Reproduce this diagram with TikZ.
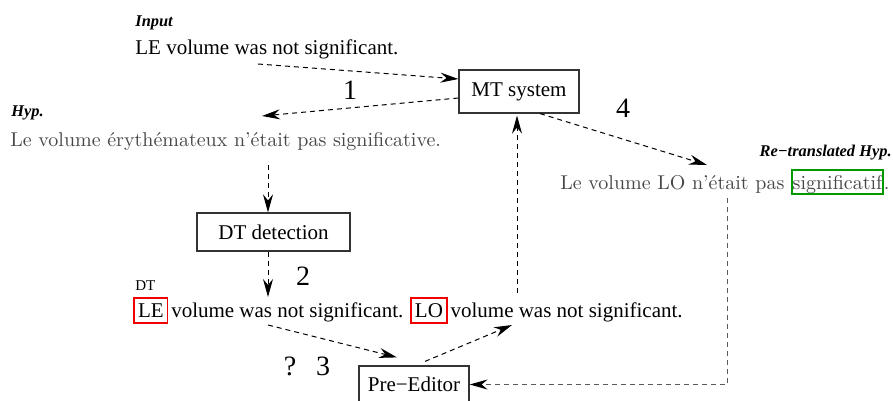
\documentclass[tikz,border=0pt]{standalone}
\usepackage{fontspec}
\newfontfamily\tms{Liberation Serif}
\usetikzlibrary{arrows.meta}
\definecolor{frgray}{gray}{0.28}
\definecolor{boxgreen}{rgb}{0,0.6,0}
\definecolor{boxred}{rgb}{0.95,0,0}
\newcommand\redbox[1]{{\setlength\fboxsep{1.5pt}\setlength\fboxrule{0.8pt}\fcolorbox{boxred}{white}{\rule[-1pt]{0pt}{8.5pt}#1}}}
\newcommand\greenbox[1]{{\setlength\fboxsep{0pt}\setlength\fboxrule{0.8pt}\fcolorbox{boxgreen}{white}{\rule[-2.1pt]{0pt}{11.2pt}#1}}}
\tikzset{
  en/.style={font=\tms\fontsize{10.5}{12}\selectfont, inner sep=0pt, anchor=base west},
  fr/.style={font=\fontsize{10}{12}\selectfont, text=frgray, inner sep=0pt, anchor=base west},
  lbl/.style={font=\tms\bfseries\itshape\fontsize{8.2}{10}\selectfont, inner sep=0pt, anchor=base west},
  num/.style={font=\tms\fontsize{14}{16}\selectfont, inner sep=0pt, anchor=base},
  procbox/.style={draw=black!80, line width=0.6pt, font=\tms\fontsize{10.5}{12}\selectfont, inner sep=0pt},
  conn/.style={dash pattern=on 2.5pt off 2pt, line width=0.5pt, -{Stealth[length=9pt,width=5pt,inset=3pt,black]}},
}
\begin{document}
\begin{tikzpicture}[x=0.5pt,y=-0.5pt]
\useasboundingbox (0,0) rectangle (893,401);
% labels
\node[lbl] (inlbl) at (135,27) {Input};
\node[lbl] (hyplbl) at (11,117) {Hyp.};
\node[lbl, anchor=base east] (relbl) at (892,156) {Re−translated Hyp.};
\node[font=\tms\fontsize{7.5}{9}\selectfont, inner sep=0pt, anchor=base west] (dtlbl) at (135,290) {DT};
% texts
\node[en] (input) at (135,55) {LE volume was not significant.};
\node[fr] (hyp) at (10,147) {Le volume érythémateux n'était pas significative.};
\node[fr] (rehyp) at (560,189) {Le volume LO n'était pas \greenbox{significatif}.};
\node[en] (dt) at (133,317) {\redbox{LE}\hspace{1.5pt}volume was not significant. \redbox{LO}\hspace{1.5pt}volume was not significant.};
% boxes
\node[procbox, minimum width=60pt, minimum height=21.5pt] (mt) at (519,91.5) {MT system};
\node[procbox, minimum width=76.5pt, minimum height=19pt] (dtd) at (273.5,232) {DT detection};
\node[procbox, minimum width=55pt, minimum height=18.5pt] (pre) at (414,384.5) {Pre−Editor};
% numbers
\node[num] (n1) at (350,99) {1};
\node[num] (n2) at (303,285) {2};
\node[num] (nq) at (290,375) {?};
\node[num] (n3) at (323,375) {3};
\node[num] (n4) at (623,118) {4};
% connector ends
\coordinate (c1s) at (258,64);
\coordinate (c2e) at (262,116);
\coordinate (c3s) at (268,165);
\coordinate (c4e) at (268,297);
\coordinate (c5s) at (268,325);
\coordinate (c6e) at (512,325);
\coordinate (c7s) at (517,293);
\coordinate (c8e) at (707,165);
\coordinate (c9s) at (727,198);
\coordinate (c9m) at (727,384.5);
% connectors
\draw[conn] (c1s) -- ([yshift=6.25pt]mt.west);
\draw[conn] ([yshift=-3.25pt]mt.west) -- (c2e);
\draw[conn] (c3s) -- ([xshift=-2.75pt]dtd.north);
\draw[conn] ([xshift=-2.75pt]dtd.south) -- (c4e);
\draw[conn] (c5s) -- ([xshift=-8.5pt,yshift=4pt]pre.north);
\draw[conn] ([xshift=5.5pt,yshift=2pt]pre.north) -- (c6e);
\draw[conn] (c7s) -- ([xshift=-1pt,yshift=-1pt]mt.south);
\draw[conn] ([xshift=10.5pt]mt.south) -- (c8e);
\draw[conn, draw=black!65] (c9s) -- (c9m) -- (pre.east);
\end{tikzpicture}
\end{document}
